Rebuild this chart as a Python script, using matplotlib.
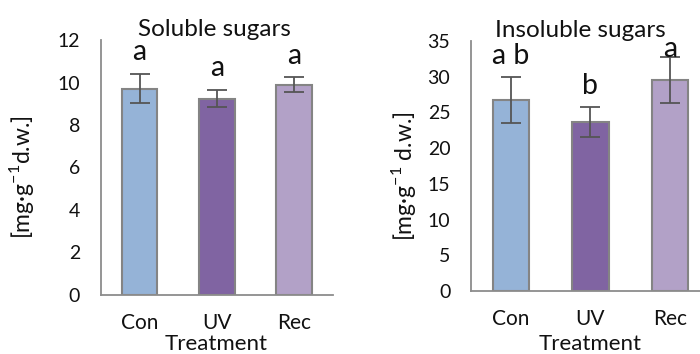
import matplotlib.pyplot as plt
import numpy as np

plt.rcParams['font.family'] = ['Lato', 'DejaVu Sans']

treatments = ['Con', 'UV', 'Rec']
colors = ['#95b3d7', '#8064a2', '#b2a1c7']

# soluble sugars, mg/g dry weight
sol_mean = [9.72, 9.25, 9.9]
sol_err = [0.7, 0.42, 0.35]
sol_letters = ['a', 'a', 'a']

# insoluble sugars, mg/g dry weight
insol_mean = [26.7, 23.7, 29.5]
insol_err = [3.2, 2.1, 3.2]
insol_letters = ['a b', 'b', 'a']

fig = plt.figure(figsize=(7, 3.54), dpi=100)
ax1 = fig.add_axes([0.1443, 0.168, 0.331, 0.718])
ax2 = fig.add_axes([0.673, 0.178, 0.341, 0.706])


def panel(ax, mean, err, letters, title, ylab, ymax, step, title_x, ylab_x, xlab_x, xlab_y):
    x = np.arange(len(mean))
    ax.bar(x, mean, width=0.46, color=colors, edgecolor='#848484', linewidth=1.5, zorder=2)
    ax.errorbar(x, mean, yerr=err, fmt='none', ecolor='#555555', elinewidth=1.3,
                capsize=7, capthick=1.3, zorder=3)
    for xi, m, e, t in zip(x, mean, err, letters):
        y = min(m + e + 0.085 * ymax, 0.97 * ymax)
        ax.text(xi, y, t, ha='center', va='center', fontsize=20.5, color='#111111')
    ax.set_xlim(-0.5, 2.5)
    ax.set_ylim(0, ymax)
    ax.set_yticks(np.arange(0, ymax + 0.1, step))
    ax.set_xticks(x)
    ax.set_xticklabels(treatments)
    ax.tick_params(length=0, labelsize=14, pad=15, colors='#111111')
    ax.tick_params(axis='x', labelsize=15, pad=13)
    for s in ['top', 'right']:
        ax.spines[s].set_visible(False)
    for s in ['left', 'bottom']:
        ax.spines[s].set_color('#8c8c8c')
        ax.spines[s].set_linewidth(1.3)
    ax.set_title(title, fontsize=17.5, x=title_x, pad=3, color='#111111')
    ax.set_xlabel('Treatment', fontsize=16, color='#111111', va='center')
    ax.xaxis.set_label_coords(xlab_x, xlab_y)
    ax.set_ylabel(ylab, fontsize=16.5, color='#111111', va='center')
    ax.yaxis.set_label_coords(ylab_x, 0.46)


panel(ax1, sol_mean, sol_err, sol_letters, 'Soluble sugars',
      '[mg·g$^{\\mathregular{-1}}$d.w.]', 12, 2, 0.49, -0.345, 0.496, -0.195)
panel(ax2, insol_mean, insol_err, insol_letters, 'Insoluble sugars',
      '[mg·g$^{\\mathregular{-1}}$ d.w.]', 35, 5, 0.457, -0.285, 0.5, -0.213)

fig.savefig('out.png', dpi=100)
